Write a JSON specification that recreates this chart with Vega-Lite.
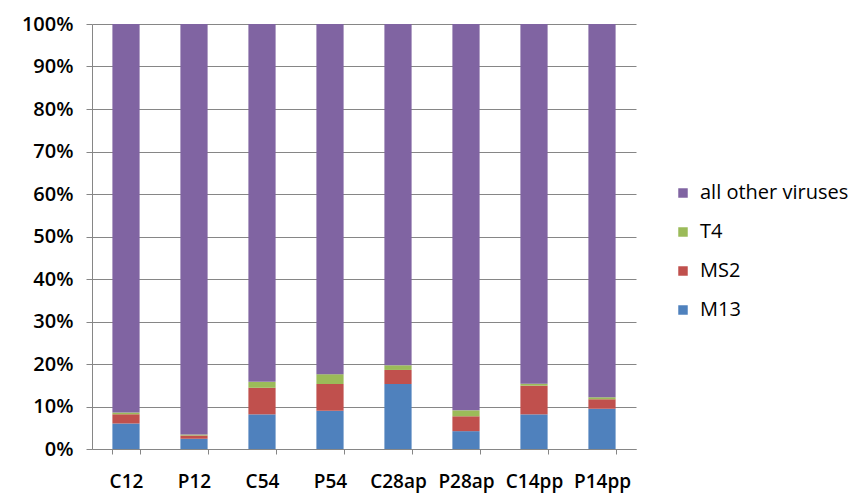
{
  "$schema": "https://vega.github.io/schema/vega-lite/v6.json",
  "width": 544,
  "height": 425,
  "autosize": "none",
  "padding": {"left": 92, "top": 24, "right": 223, "bottom": 53},
  "background": "white",
  "config": {
    "view": {"stroke": null},
    "font": "Open Sans"
  },
  "data": {
    "values": [
      {"sample": "C12", "virus": "M13", "ord": 1, "pct": 6.0},
      {"sample": "C12", "virus": "MS2", "ord": 2, "pct": 2.15},
      {"sample": "C12", "virus": "T4", "ord": 3, "pct": 0.45},
      {"sample": "C12", "virus": "all other viruses", "ord": 4, "pct": 91.4},
      {"sample": "P12", "virus": "M13", "ord": 1, "pct": 2.4},
      {"sample": "P12", "virus": "MS2", "ord": 2, "pct": 0.8},
      {"sample": "P12", "virus": "T4", "ord": 3, "pct": 0.2},
      {"sample": "P12", "virus": "all other viruses", "ord": 4, "pct": 96.6},
      {"sample": "C54", "virus": "M13", "ord": 1, "pct": 8.15},
      {"sample": "C54", "virus": "MS2", "ord": 2, "pct": 6.25},
      {"sample": "C54", "virus": "T4", "ord": 3, "pct": 1.4},
      {"sample": "C54", "virus": "all other viruses", "ord": 4, "pct": 84.2},
      {"sample": "P54", "virus": "M13", "ord": 1, "pct": 9.0},
      {"sample": "P54", "virus": "MS2", "ord": 2, "pct": 6.3},
      {"sample": "P54", "virus": "T4", "ord": 3, "pct": 2.3},
      {"sample": "P54", "virus": "all other viruses", "ord": 4, "pct": 82.4},
      {"sample": "C28ap", "virus": "M13", "ord": 1, "pct": 15.3},
      {"sample": "C28ap", "virus": "MS2", "ord": 2, "pct": 3.3},
      {"sample": "C28ap", "virus": "T4", "ord": 3, "pct": 1.1},
      {"sample": "C28ap", "virus": "all other viruses", "ord": 4, "pct": 80.3},
      {"sample": "P28ap", "virus": "M13", "ord": 1, "pct": 4.2},
      {"sample": "P28ap", "virus": "MS2", "ord": 2, "pct": 3.5},
      {"sample": "P28ap", "virus": "T4", "ord": 3, "pct": 1.4},
      {"sample": "P28ap", "virus": "all other viruses", "ord": 4, "pct": 90.9},
      {"sample": "C14pp", "virus": "M13", "ord": 1, "pct": 8.15},
      {"sample": "C14pp", "virus": "MS2", "ord": 2, "pct": 6.75},
      {"sample": "C14pp", "virus": "T4", "ord": 3, "pct": 0.45},
      {"sample": "C14pp", "virus": "all other viruses", "ord": 4, "pct": 84.65},
      {"sample": "P14pp", "virus": "M13", "ord": 1, "pct": 9.5},
      {"sample": "P14pp", "virus": "MS2", "ord": 2, "pct": 2.2},
      {"sample": "P14pp", "virus": "T4", "ord": 3, "pct": 0.5},
      {"sample": "P14pp", "virus": "all other viruses", "ord": 4, "pct": 87.8}
    ]
  },
  "mark": {"type": "bar"},
  "encoding": {
    "x": {
      "field": "sample",
      "type": "nominal",
      "sort": null,
      "scale": {"paddingInner": 0.6, "paddingOuter": 0.3},
      "axis": {
        "title": null,
        "labelAngle": 0,
        "labelFontSize": 19,
        "labelFontWeight": 600,
        "labelColor": "#000000",
        "labelPadding": 18,
        "tickBand": "extent",
        "tickSize": 5,
        "tickColor": "#868686",
        "domainColor": "#868686",
        "grid": false
      }
    },
    "y": {
      "field": "pct",
      "type": "quantitative",
      "stack": "normalize",
      "scale": {"domain": [0, 1]},
      "axis": {
        "title": null,
        "format": ".0%",
        "values": [0, 0.1, 0.2, 0.3, 0.4, 0.5, 0.6, 0.7, 0.8, 0.9, 1],
        "labelFontSize": 20,
        "labelFontWeight": 600,
        "labelColor": "#000000",
        "labelPadding": 13,
        "tickSize": 6,
        "tickColor": "#868686",
        "domainColor": "#868686",
        "gridColor": "#868686",
        "gridWidth": 1
      }
    },
    "color": {
      "field": "virus",
      "type": "nominal",
      "scale": {
        "domain": ["all other viruses", "T4", "MS2", "M13"],
        "range": ["#8064A2", "#9BBB59", "#C0504D", "#4F81BD"]
      },
      "legend": {
        "title": null,
        "orient": "none",
        "legendX": 581,
        "legendY": 159,
        "symbolType": "square",
        "symbolSize": 90,
        "symbolStrokeWidth": 0,
        "labelFontSize": 20,
        "labelColor": "#000000",
        "labelOffset": 7,
        "rowPadding": 19
      }
    },
    "order": {"field": "ord", "type": "quantitative"}
  }
}
